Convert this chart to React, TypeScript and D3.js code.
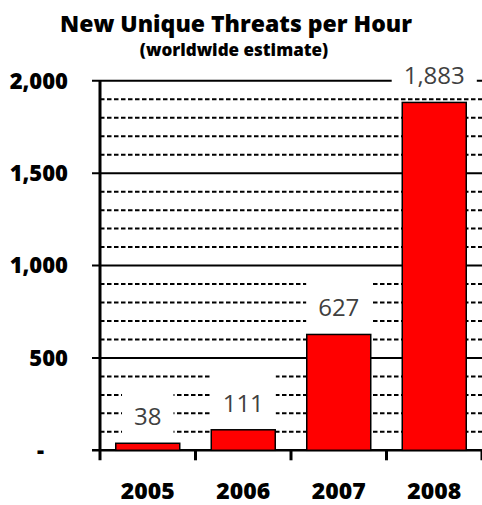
import React, { useEffect, useRef } from "react";
import * as d3 from "d3";

const years = ["2005", "2006", "2007", "2008"];
const threats = [38, 111, 627, 1883];
const valueLabels = ["38", "111", "627", "1,883"];
const majorTicks = [0, 500, 1000, 1500, 2000];
const majorTickLabels = ["-", "500", "1,000", "1,500", "2,000"];
const minorTicks = d3.range(100, 2000, 100).filter((v) => v % 500 !== 0);
const title = "New Unique Threats per Hour";
const subtitle = "(worldwide estimate)";

const W = 482;
const H = 505;

export default function App() {
  const ref = useRef<SVGSVGElement | null>(null);

  useEffect(() => {
    const svg = d3.select(ref.current);
    svg.selectAll("*").remove();

    const left = 100;
    const right = 482;
    const top = 80.8;
    const bottom = 450.3;

    const x = d3.scaleBand<string>().domain(years).range([left, right]).paddingInner(0.33).paddingOuter(0.165);
    const y = d3.scaleLinear().domain([0, 2000]).range([bottom, top]);

    svg.append("rect").attr("width", W).attr("height", H).attr("fill", "#ffffff");

    // minor dashed gridlines
    svg
      .append("g")
      .selectAll("line")
      .data(minorTicks)
      .join("line")
      .attr("x1", left)
      .attr("x2", right)
      .attr("y1", (d) => y(d))
      .attr("y2", (d) => y(d))
      .attr("stroke", "#000")
      .attr("stroke-width", 2)
      .attr("stroke-dasharray", "4.5,2.5");

    // major gridlines
    svg
      .append("g")
      .selectAll("line")
      .data(majorTicks)
      .join("line")
      .attr("x1", left - 8)
      .attr("x2", right)
      .attr("y1", (d) => y(d))
      .attr("y2", (d) => y(d))
      .attr("stroke", "#000")
      .attr("stroke-width", (d) => (d === 0 ? 2.5 : 2));

    // y tick labels
    svg
      .append("g")
      .selectAll("text")
      .data(majorTicks)
      .join("text")
      .attr("x", (d) => (d === 0 ? 44 : 68))
      .attr("y", (d) => y(d))
      .attr("dy", "0.36em")
      .attr("text-anchor", "end")
      .attr("font-family", "'Open Sans', sans-serif")
      .attr("font-weight", 800)
      .attr("font-size", 22)
      .attr("fill", "#000")
      .text((d, i) => majorTickLabels[i]);

    // bars
    svg
      .append("g")
      .selectAll("rect")
      .data(threats)
      .join("rect")
      .attr("x", (d, i) => x(years[i])!)
      .attr("width", x.bandwidth())
      .attr("y", (d) => y(d))
      .attr("height", (d) => y(0) - y(d))
      .attr("fill", "#ff0000")
      .attr("stroke", "#000")
      .attr("stroke-width", 1.5);

    // y axis line
    svg
      .append("line")
      .attr("x1", left)
      .attr("x2", left)
      .attr("y1", top)
      .attr("y2", bottom + 10)
      .attr("stroke", "#000")
      .attr("stroke-width", 3);

    // x category boundary ticks
    const step = x.step();
    svg
      .append("g")
      .selectAll("line")
      .data(d3.range(1, years.length + 1))
      .join("line")
      .attr("x1", (i) => left + i * step)
      .attr("x2", (i) => left + i * step)
      .attr("y1", bottom)
      .attr("y2", bottom + 10)
      .attr("stroke", "#000")
      .attr("stroke-width", 3);

    // x labels
    svg
      .append("g")
      .selectAll("text")
      .data(years)
      .join("text")
      .attr("x", (d) => x(d)! + x.bandwidth() / 2)
      .attr("y", 499)
      .attr("text-anchor", "middle")
      .attr("font-family", "'Open Sans', sans-serif")
      .attr("font-weight", 800)
      .attr("font-size", 23)
      .attr("fill", "#000")
      .text((d) => d);

    // value labels with white boxes
    const lg = svg.append("g");
    threats.forEach((v, i) => {
      const cx = x(years[i])! + x.bandwidth() / 2;
      const base = y(v) - 18;
      const g = lg.append("g");
      const rect = g.append("rect").attr("fill", "#ffffff");
      const t = g
        .append("text")
        .attr("x", cx)
        .attr("y", base)
        .attr("text-anchor", "middle")
        .attr("font-family", "'Open Sans', sans-serif")
        .attr("font-size", 24)
        .attr("fill", "#404040")
        .text(valueLabels[i]);
      const w = (t.node() as SVGTextElement).getComputedTextLength();
      rect
        .attr("x", cx - w / 2 - 12)
        .attr("width", w + 24)
        .attr("y", base - 38)
        .attr("height", 50);
    });

    // title
    svg
      .append("text")
      .attr("x", 236)
      .attr("y", 32)
      .attr("text-anchor", "middle")
      .attr("font-family", "'Open Sans', sans-serif")
      .attr("font-weight", 800)
      .attr("font-size", 23)
      .attr("fill", "#000")
      .text(title);

    svg
      .append("text")
      .attr("x", 234)
      .attr("y", 56)
      .attr("text-anchor", "middle")
      .attr("font-family", "'Open Sans', sans-serif")
      .attr("font-weight", 800)
      .attr("font-size", 17)
      .attr("fill", "#000")
      .text(subtitle);
  }, []);

  return (
    <svg
      ref={ref}
      width={W}
      height={H}
      style={{ position: "absolute", left: 0, top: 0, display: "block" }}
    />
  );
}
